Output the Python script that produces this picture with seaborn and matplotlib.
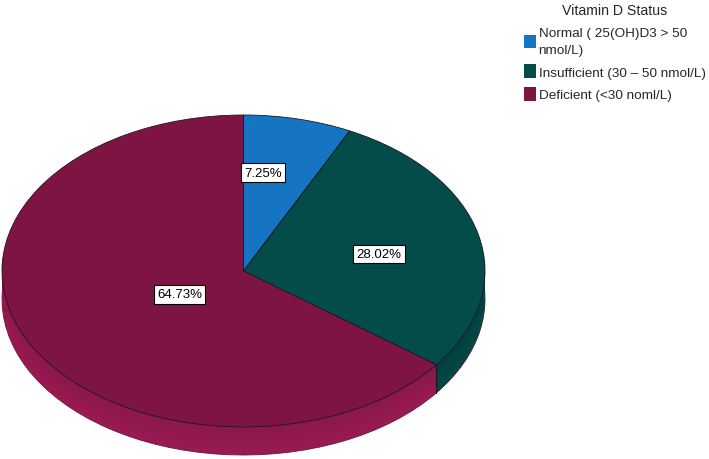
import numpy as np
import matplotlib
matplotlib.use("Agg")
import matplotlib.pyplot as plt
import seaborn as sns
from matplotlib.patches import Patch

sns.set_style("white")
plt.rcParams['font.family'] = ['Liberation Sans', 'DejaVu Sans']

# data
categories = ['Normal ( 25(OH)D3 > 50\nnmol/L)', 'Insufficient (30 \u2013 50 nmol/L)', 'Deficient (<30 noml/L)']
percents = [7.25, 28.02, 64.73]
legend_title = 'Vitamin D Status'

# colours
top_colors = ['#1675c3', '#034c4a', '#7e1444']
side_colors = ['#115e9c', '#03403e', '#8a174b']

fig = plt.figure(figsize=(7.09, 4.6), dpi=100)
depth = 0.18
ax = fig.add_axes([2 / 709, 1 - 456 / 460, 483 / 709, (456 - 116) / 460])

# side of the 3d pie: stacked copies shifted down
for k, off in enumerate(np.linspace(depth, 0.01, 28)):
    shade = 1 + 0.12 * (off / depth)
    cols = [tuple(min(1, c * shade) for c in matplotlib.colors.to_rgb(sc)) for sc in side_colors]
    ax.pie(percents, colors=cols, startangle=90, counterclock=False,
           center=(0, -off), radius=1,
           wedgeprops=dict(linewidth=0.6 if k == 0 else 0, edgecolor='#6a1438'))

# vertical edge on the side where slices meet at the front
cum = np.cumsum(percents) / 100.0
for c in cum[:-1]:
    ang = np.deg2rad(90 - 360 * c)
    if np.sin(ang) < 0:
        ax.plot([np.cos(ang), np.cos(ang)], [np.sin(ang), np.sin(ang) - depth],
                color='#1a1a1a', lw=0.8)

# top face
wedges, texts, autotexts = ax.pie(
    percents, colors=top_colors, startangle=90, counterclock=False,
    autopct='%.2f%%', pctdistance=0.5,
    wedgeprops=dict(linewidth=0.6, edgecolor='#1a1a1a'),
    textprops=dict(fontsize=9.5, color='black'))

# move labels to where the original puts them
label_xy = [(0.08, 0.63), (0.56, 0.11), (-0.265, -0.15)]
for t, (x, y) in zip(autotexts, label_xy):
    t.set_position((x, y))
    t.set_ha('center')
    t.set_va('center')
    t.set_bbox(dict(facecolor='white', edgecolor='black', linewidth=0.8,
                    boxstyle='square,pad=0.25'))

ax.set_aspect('auto')
ax.set_xlim(-1, 1)
ax.set_ylim(-1 - depth, 1)
ax.axis('off')

handles = [Patch(facecolor=c, edgecolor='none') for c in top_colors]
leg = fig.legend(handles, categories, title=legend_title, loc='upper left',
                 bbox_to_anchor=(517 / 709, 1.005), frameon=False, fontsize=9.7,
                 title_fontsize=10.2, handlelength=0.9, handleheight=1.2,
                 handletextpad=0.2, labelspacing=0.6, borderaxespad=0.1)
leg._legend_box.sep = 7
fig.canvas.draw()
for t in leg.get_texts():
    t.set_linespacing(1.55)
    t.stale = True

fig.savefig('out.png', dpi=100)
